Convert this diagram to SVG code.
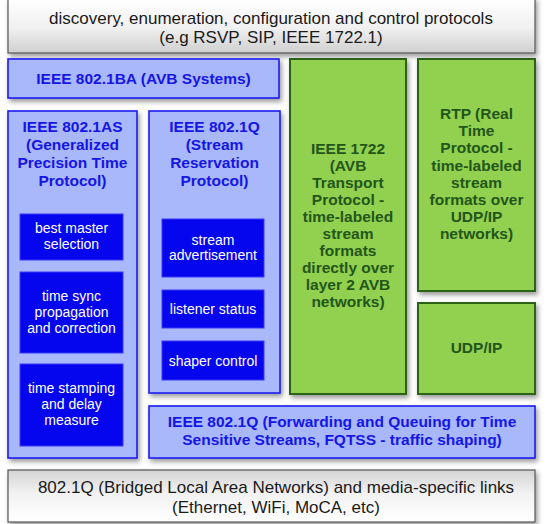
<svg xmlns="http://www.w3.org/2000/svg" width="550" height="524" viewBox="0 0 550 524">
<defs>
<linearGradient id="gTop" x1="0" y1="0" x2="0" y2="1">
<stop offset="0" stop-color="#ffffff"/>
<stop offset="0.55" stop-color="#f0f0f0"/>
<stop offset="1" stop-color="#cfcfcf"/>
</linearGradient>
<linearGradient id="gBot" x1="0" y1="0" x2="0" y2="1">
<stop offset="0" stop-color="#d4d4d4"/>
<stop offset="0.45" stop-color="#f2f2f2"/>
<stop offset="1" stop-color="#ffffff"/>
</linearGradient>
<filter id="sh" x="-10%" y="-10%" width="130%" height="130%">
<feDropShadow dx="2" dy="3" stdDeviation="2.5" flood-color="#000" flood-opacity="0.4"/>
</filter>
</defs>
<style>
.gray{stroke:#555;stroke-width:1.2;filter:url(#sh)}
.lb{fill:#a8b8fb;stroke:#1c1cf0;stroke-width:1.6;filter:url(#sh)}
.gr{fill:#92d050;stroke:#2b6418;stroke-width:2;filter:url(#sh)}
.db{fill:#0505ee;stroke:#3a3af5;stroke-width:1}
text{font-family:"Liberation Sans",Arial,Helvetica,sans-serif;text-anchor:middle}
.t{font-size:17px;fill:#1a1a1a}
.bt{font-size:15.5px;font-weight:bold;fill:#1515e6}
.gt{font-size:15.5px;font-weight:bold;fill:#23561a}
.wt{font-size:14px;fill:#ffffff}
</style>
<rect width="550" height="524" fill="#ffffff"/>
<g id="control-protocols">
<rect class="gray" x="8" y="-2" width="527" height="55" fill="url(#gTop)"/>
<text class="t" x="271" y="24">discovery, enumeration, configuration and control protocols</text>
<text class="t" x="271" y="43">(e.g RSVP, SIP, IEEE 1722.1)</text>
</g>
<g id="avb-systems">
<rect class="lb" x="8" y="59" width="271" height="39"/>
<text class="bt" x="143.5" y="84">IEEE 802.1BA (AVB Systems)</text>
</g>
<g id="gptp">
<rect class="lb" x="8" y="111" width="129" height="347"/>
<text class="bt" x="72.5" y="132">IEEE 802.1AS</text>
<text class="bt" x="72.5" y="150">(Generalized</text>
<text class="bt" x="72.5" y="168">Precision Time</text>
<text class="bt" x="72.5" y="186">Protocol)</text>
</g>
<g id="best-master">
<rect class="db" x="20" y="214" width="103" height="46"/>
<text class="wt" x="71.5" y="233">best master</text>
<text class="wt" x="71.5" y="249">selection</text>
</g>
<g id="time-sync">
<rect class="db" x="20" y="272" width="103" height="81"/>
<text class="wt" x="71.5" y="301">time sync</text>
<text class="wt" x="71.5" y="317">propagation</text>
<text class="wt" x="71.5" y="333">and correction</text>
</g>
<g id="time-stamping">
<rect class="db" x="20" y="364" width="103" height="82"/>
<text class="wt" x="71.5" y="393">time stamping</text>
<text class="wt" x="71.5" y="409">and delay</text>
<text class="wt" x="71.5" y="425">measure</text>
</g>
<g id="srp">
<rect class="lb" x="149" y="111" width="131" height="282"/>
<text class="bt" x="214.5" y="132">IEEE 802.1Q</text>
<text class="bt" x="214.5" y="150">(Stream</text>
<text class="bt" x="214.5" y="168">Reservation</text>
<text class="bt" x="214.5" y="186">Protocol)</text>
</g>
<g id="stream-advertisement">
<rect class="db" x="162" y="219" width="102" height="58"/>
<text class="wt" x="213" y="245">stream</text>
<text class="wt" x="213" y="260">advertisement</text>
</g>
<g id="listener-status">
<rect class="db" x="162" y="290" width="102" height="38"/>
<text class="wt" x="213" y="314">listener status</text>
</g>
<g id="shaper-control">
<rect class="db" x="162" y="341" width="102" height="39"/>
<text class="wt" x="213" y="366">shaper control</text>
</g>
<g id="ieee1722">
<rect class="gr" x="290" y="59" width="116" height="335"/>
<text class="gt" x="348" y="154">IEEE 1722</text>
<text class="gt" x="348" y="171">(AVB</text>
<text class="gt" x="348" y="188">Transport</text>
<text class="gt" x="348" y="205">Protocol -</text>
<text class="gt" x="348" y="222">time-labeled</text>
<text class="gt" x="348" y="239">stream</text>
<text class="gt" x="348" y="256">formats</text>
<text class="gt" x="348" y="273">directly over</text>
<text class="gt" x="348" y="290">layer 2 AVB</text>
<text class="gt" x="348" y="307">networks)</text>
</g>
<g id="rtp">
<rect class="gr" x="418" y="59" width="117" height="232"/>
<text class="gt" x="476.5" y="119">RTP (Real</text>
<text class="gt" x="476.5" y="136">Time</text>
<text class="gt" x="476.5" y="153">Protocol -</text>
<text class="gt" x="476.5" y="171">time-labeled</text>
<text class="gt" x="476.5" y="188">stream</text>
<text class="gt" x="476.5" y="205">formats over</text>
<text class="gt" x="476.5" y="222">UDP/IP</text>
<text class="gt" x="476.5" y="239">networks)</text>
</g>
<g id="udp-ip">
<rect class="gr" x="418" y="303" width="117" height="91"/>
<text class="gt" x="476.5" y="353">UDP/IP</text>
</g>
<g id="fqtss">
<rect class="lb" x="149" y="406" width="386" height="52"/>
<text class="bt" x="342" y="427">IEEE 802.1Q (Forwarding and Queuing for Time</text>
<text class="bt" x="342" y="445">Sensitive Streams, FQTSS - traffic shaping)</text>
</g>
<g id="bridged-lan">
<rect class="gray" x="8" y="470" width="527" height="52" fill="url(#gBot)"/>
<text class="t" x="276" y="493">802.1Q (Bridged Local Area Networks) and media-specific links</text>
<text class="t" x="276" y="513">(Ethernet, WiFi, MoCA, etc)</text>
</g>
<g id="connectors"/>
</svg>
